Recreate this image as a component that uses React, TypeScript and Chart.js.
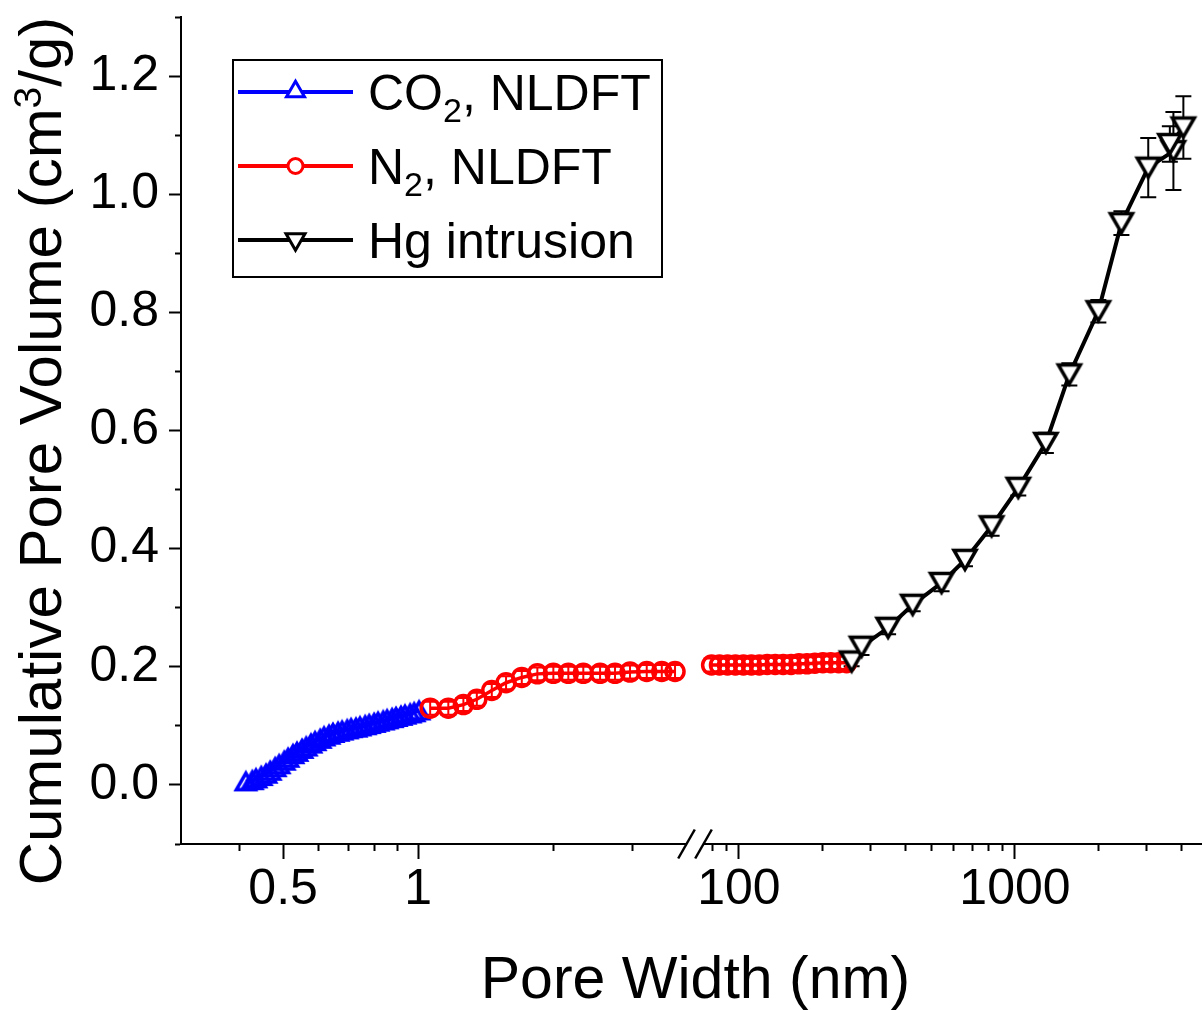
import React, { useEffect, useRef } from 'react';
import { Chart, registerables } from 'chart.js';

Chart.register(...registerables);

// ---------------- data ----------------
const CO2_X = [0.413, 0.427, 0.435, 0.447, 0.458, 0.468, 0.48, 0.49, 0.503, 0.513, 0.526, 0.537, 0.551, 0.563, 0.577, 0.589, 0.605, 0.617, 0.633, 0.646, 0.663, 0.677, 0.695, 0.709, 0.727, 0.742, 0.762, 0.778, 0.798, 0.814, 0.836, 0.853, 0.875, 0.893, 0.916, 0.935, 0.96, 0.98, 1.005];
const CO2_Y = [0.006, 0.008, 0.011, 0.015, 0.019, 0.024, 0.03, 0.035, 0.041, 0.046, 0.052, 0.056, 0.061, 0.065, 0.07, 0.074, 0.078, 0.082, 0.085, 0.088, 0.09, 0.092, 0.094, 0.096, 0.097, 0.099, 0.101, 0.103, 0.105, 0.107, 0.109, 0.111, 0.113, 0.115, 0.117, 0.119, 0.121, 0.123, 0.126];

const N2A_X = [1.064, 1.168, 1.262, 1.352, 1.46, 1.571, 1.703, 1.845, 2.003, 2.163, 2.336, 2.546, 2.749, 2.969, 3.235, 3.495, 3.741];
const N2A_Y = [0.13, 0.13, 0.136, 0.145, 0.16, 0.173, 0.182, 0.188, 0.189, 0.189, 0.189, 0.189, 0.189, 0.191, 0.192, 0.192, 0.192];
const N2A_ERR = [0.011, 0.011, 0.011, 0.011, 0.011, 0.011, 0.011, 0.011, 0.011, 0.011, 0.011, 0.011, 0.011, 0.011, 0.011, 0.011, 0.011];

const N2B_X = [79.6, 85.0, 90.9, 97.1, 103.8, 110.9, 118.5, 126.6, 135.3, 144.6, 154.5, 165.0, 176.4, 188.4, 201.4, 215.1, 229.8, 245.6];
const N2B_Y = [0.203, 0.203, 0.203, 0.203, 0.203, 0.203, 0.203, 0.204, 0.204, 0.204, 0.204, 0.205, 0.205, 0.206, 0.207, 0.207, 0.207, 0.207];
const N2B_ERR = [0.011, 0.011, 0.011, 0.011, 0.011, 0.011, 0.011, 0.011, 0.011, 0.011, 0.011, 0.011, 0.011, 0.011, 0.011, 0.011, 0.011, 0.011];

const HG_X = [256, 278, 347, 426, 542, 659, 823, 1028, 1294, 1574, 2005, 2430, 3040, 3750, 3640, 4075];
const HG_Y = [0.209, 0.234, 0.266, 0.305, 0.342, 0.381, 0.438, 0.503, 0.579, 0.695, 0.802, 0.951, 1.045, 1.073, 1.085, 1.113];
const HG_ERR = [0.008, 0.014, 0.011, 0.011, 0.014, 0.011, 0.016, 0.013, 0.017, 0.019, 0.019, 0.02, 0.05, 0.066, 0.03, 0.053];

// axes
const X1_RANGE = [0.296, 4.145];
const X2_RANGE = [69.3, 4760];
const Y_RANGE = [-0.1, 1.3];
const X1_TICKS = [0.4, 0.5, 0.6, 0.7, 0.8, 0.9, 1, 2, 3];
const X2_TICKS = [80, 90, 100, 200, 300, 400, 500, 600, 700, 800, 900, 1000, 2000, 3000, 4000];
const X_LABELED = [0.5, 1, 100, 1000];
const Y_TICKS = [-0.1, 0, 0.1, 0.2, 0.3, 0.4, 0.5, 0.6, 0.7, 0.8, 0.9, 1.0, 1.1, 1.2, 1.3];
const Y_LABELED = [0, 0.2, 0.4, 0.6, 0.8, 1.0, 1.2];

const X_TITLE = 'Pore Width (nm)';
const Y_TITLE_PARTS: [string, string][] = [['Cumulative Pore Volume (cm', 'n'], ['3', 'sup'], ['/g)', 'n']];
const LEGEND_LABELS: [string, string][][] = [
  [['CO', 'n'], ['2', 'sub'], [', NLDFT', 'n']],
  [['N', 'n'], ['2', 'sub'], [', NLDFT', 'n']],
  [['Hg intrusion', 'n']],
];

const FONT = "'Liberation Sans', Arial, Helvetica, sans-serif";
const BLUE = '#0000ff';
const RED = '#ff0000';
const BLACK = '#000000';

const near = (a: number, b: number) => Math.abs(a - b) < 1e-6 * Math.max(1, Math.abs(b));
const isXLabeled = (v: number) => X_LABELED.some((m) => near(v, m));
const isYLabeled = (v: number) => Y_LABELED.some((m) => near(v, m));

const pts = (xs: number[], ys: number[]) => xs.map((x, i) => ({ x, y: ys[i] }));

// triangle centred on its bounding box (side s), pointing up or down
function triPath(ctx: CanvasRenderingContext2D, cx: number, cy: number, s: number, down: boolean) {
  const h = (s * Math.sqrt(3)) / 2;
  ctx.beginPath();
  if (down) {
    ctx.moveTo(cx - s / 2, cy - h / 2);
    ctx.lineTo(cx + s / 2, cy - h / 2);
    ctx.lineTo(cx, cy + h / 2);
  } else {
    ctx.moveTo(cx - s / 2, cy + h / 2);
    ctx.lineTo(cx + s / 2, cy + h / 2);
    ctx.lineTo(cx, cy - h / 2);
  }
  ctx.closePath();
}

function makeTriangle(s: number, down: boolean, stroke: string, fill: string | null, lw: number) {
  const size = 36;
  const c = document.createElement('canvas');
  c.width = size;
  c.height = size;
  const ctx = c.getContext('2d')!;
  ctx.lineWidth = lw;
  ctx.lineJoin = 'miter';
  ctx.strokeStyle = stroke;
  triPath(ctx, size / 2, size / 2, s, down);
  if (fill) {
    ctx.fillStyle = fill;
    ctx.fill();
  }
  ctx.stroke();
  return c;
}

const errorBarPlugin = {
  id: 'errorBars',
  beforeDatasetsDraw(chart: any) {
    const ctx = chart.ctx as CanvasRenderingContext2D;
    const yScale = chart.scales.y;
    chart.data.datasets.forEach((ds: any, di: number) => {
      if (!ds.errors) return;
      const meta = chart.getDatasetMeta(di);
      ctx.save();
      ctx.strokeStyle = ds.borderColor;
      ctx.lineWidth = 2;
      meta.data.forEach((el: any, i: number) => {
        const v = ds.data[i].y;
        const e = ds.errors[i];
        const yt = yScale.getPixelForValue(v + e);
        const yb = yScale.getPixelForValue(v - e);
        const x = el.x;
        ctx.beginPath();
        ctx.moveTo(x, yt);
        ctx.lineTo(x, yb);
        ctx.moveTo(x - 8, yt);
        ctx.lineTo(x + 8, yt);
        ctx.moveTo(x - 8, yb);
        ctx.lineTo(x + 8, yb);
        ctx.stroke();
      });
      ctx.restore();
    });
  },
};

const decorPlugin = {
  id: 'decor',
  afterDraw(chart: any) {
    const ctx = chart.ctx as CanvasRenderingContext2D;
    const x1 = chart.scales.x1;
    const area = chart.chartArea;
    ctx.save();
    // axis break
    const xb = x1.right;
    const ya = x1.top;
    ctx.fillStyle = '#ffffff';
    ctx.fillRect(xb - 8, ya - 3, 16, 7);
    ctx.strokeStyle = BLACK;
    ctx.lineWidth = 2.5;
    [xb - 8.5, xb + 8.5].forEach((cx) => {
      ctx.beginPath();
      ctx.moveTo(cx - 8.3, ya + 14.5);
      ctx.lineTo(cx + 8.3, ya - 14.5);
      ctx.stroke();
    });

    // x title
    ctx.fillStyle = BLACK;
    ctx.font = `59px ${FONT}`;
    ctx.textAlign = 'center';
    ctx.textBaseline = 'alphabetic';
    ctx.fillText(X_TITLE, (area.left + area.right) / 2 + 4, 998);

    // y title (rotated)
    ctx.save();
    ctx.translate(61, 451);
    ctx.rotate(-Math.PI / 2);
    ctx.textAlign = 'left';
    const fontFor = (k: string) => (k === 'n' ? `60px ${FONT}` : `39px ${FONT}`);
    let total = 0;
    Y_TITLE_PARTS.forEach(([t, k]) => {
      ctx.font = fontFor(k);
      total += ctx.measureText(t).width;
    });
    let cx = -total / 2;
    Y_TITLE_PARTS.forEach(([t, k]) => {
      ctx.font = fontFor(k);
      ctx.fillText(t, cx, k === 'sup' ? -20 : 0);
      cx += ctx.measureText(t).width;
    });
    ctx.restore();

    // legend
    ctx.lineWidth = 2;
    ctx.strokeStyle = BLACK;
    ctx.strokeRect(233, 60, 429, 217);
    const styles = [
      { color: BLUE, kind: 'up' },
      { color: RED, kind: 'circle' },
      { color: BLACK, kind: 'down' },
    ];
    LEGEND_LABELS.forEach((parts, i) => {
      const y = 92 + i * 74;
      const st = styles[i];
      ctx.strokeStyle = st.color;
      ctx.lineWidth = 4;
      ctx.beginPath();
      ctx.moveTo(238, y);
      ctx.lineTo(353, y);
      ctx.stroke();
      ctx.lineWidth = 3;
      ctx.fillStyle = '#ffffff';
      if (st.kind === 'circle') {
        ctx.beginPath();
        ctx.arc(295.5, y, 7.5, 0, Math.PI * 2);
      } else {
        triPath(ctx, 295.5, st.kind === 'up' ? y - 3 : y + 2, st.kind === 'up' ? 18 : 19, st.kind === 'down');
      }
      ctx.fill();
      ctx.stroke();
      ctx.fillStyle = BLACK;
      ctx.textAlign = 'left';
      ctx.textBaseline = 'alphabetic';
      let tx = 368;
      const base = y + 18;
      parts.forEach(([t, k]) => {
        ctx.font = k === 'sub' ? `34px ${FONT}` : `50px ${FONT}`;
        ctx.fillText(t, tx, k === 'sub' ? base + 12 : base);
        tx += ctx.measureText(t).width;
      });
    });
    ctx.restore();
  },
};

function xScale(range: number[], ticks: number[], weight: number) {
  return {
    type: 'logarithmic',
    position: 'bottom',
    stack: 'xstack',
    stackWeight: weight,
    min: range[0],
    max: range[1],
    bounds: 'data',
    afterBuildTicks: (scale: any) => {
      scale.ticks = ticks.map((v) => ({ value: v }));
    },
    afterFit: (scale: any) => {
      scale.height = 166;
      scale.paddingLeft = 0;
      scale.paddingRight = 0;
      scale.paddingTop = 0;
      scale.paddingBottom = 0;
    },
    border: { display: true, color: BLACK, width: 2 },
    grid: {
      display: true,
      drawOnChartArea: false,
      drawTicks: true,
      tickLength: 15,
      tickWidth: 2,
      tickColor: BLACK,
      tickBorderDash: (c: any) => (c.tick && isXLabeled(c.tick.value) ? [] : [6, 100]),
      tickBorderDashOffset: 0,
    },
    ticks: {
      autoSkip: false,
      maxRotation: 0,
      minRotation: 0,
      padding: 1,
      color: BLACK,
      font: (c: any) => ({ family: FONT, size: c.tick && isXLabeled(c.tick.value) ? 50 : 1 }),
      callback: (v: any) => (isXLabeled(Number(v)) ? String(Number(v)) : ''),
    },
  };
}

export default function App() {
  const ref = useRef<HTMLCanvasElement>(null);

  useEffect(() => {
    const canvas = ref.current;
    if (!canvas) return;
    const w1 = 514;
    const w2 = 507;
    const upTri = makeTriangle(19, false, BLUE, null, 3.5);
    const downTri = makeTriangle(22, true, BLACK, '#ffffff', 3.5);
    const chart = new Chart(canvas, {
      type: 'line',
      data: {
        datasets: [
          {
            label: 'CO2, NLDFT',
            data: pts(CO2_X, CO2_Y),
            xAxisID: 'x1',
            yAxisID: 'y',
            borderColor: BLUE,
            borderWidth: 3.5,
            pointStyle: upTri,
            pointRadius: 12,
            pointBorderWidth: 3,
            pointBorderColor: BLUE,
            pointBackgroundColor: 'rgba(0,0,0,0)',
            tension: 0,
            order: 3,
          },
          {
            label: 'N2, NLDFT',
            data: pts(N2A_X, N2A_Y),
            errors: N2A_ERR,
            xAxisID: 'x1',
            yAxisID: 'y',
            borderColor: RED,
            borderWidth: 3.5,
            pointStyle: 'circle',
            pointRadius: 9,
            pointBorderWidth: 3.5,
            pointBorderColor: RED,
            pointBackgroundColor: 'rgba(0,0,0,0)',
            tension: 0,
            order: 2,
          },
          {
            label: 'N2, NLDFT (b)',
            data: pts(N2B_X, N2B_Y),
            errors: N2B_ERR,
            xAxisID: 'x2',
            yAxisID: 'y',
            borderColor: RED,
            borderWidth: 3.5,
            pointStyle: 'circle',
            pointRadius: 9,
            pointBorderWidth: 3.5,
            pointBorderColor: RED,
            pointBackgroundColor: 'rgba(0,0,0,0)',
            tension: 0,
            order: 2,
          },
          {
            label: 'Hg intrusion',
            data: pts(HG_X, HG_Y),
            errors: HG_ERR,
            xAxisID: 'x2',
            yAxisID: 'y',
            borderColor: BLACK,
            borderWidth: 4,
            pointStyle: downTri,
            pointRadius: 13,
            pointBorderWidth: 3,
            pointBorderColor: BLACK,
            pointBackgroundColor: '#ffffff',
            tension: 0,
            order: 1,
          },
        ] as any,
      },
      options: {
        animation: false,
        responsive: false,
        devicePixelRatio: 1,
        layout: { autoPadding: false, padding: { top: 17, left: 0, right: 0, bottom: 0 } },
        plugins: { legend: { display: false }, tooltip: { enabled: false }, title: { display: false } },
        scales: {
          x1: xScale(X1_RANGE, X1_TICKS, w1) as any,
          x2: xScale(X2_RANGE, X2_TICKS, w2) as any,
          y: {
            type: 'linear',
            position: 'left',
            min: Y_RANGE[0],
            max: Y_RANGE[1],
            afterBuildTicks: (scale: any) => {
              scale.ticks = Y_TICKS.map((v) => ({ value: v }));
            },
            afterFit: (scale: any) => {
              scale.width = 181;
              scale.paddingTop = 0;
              scale.paddingBottom = 0;
              scale.paddingLeft = 0;
              scale.paddingRight = 0;
            },
            border: { display: true, color: BLACK, width: 2 },
            grid: {
              display: true,
              drawOnChartArea: false,
              drawTicks: true,
              tickLength: 12,
              tickWidth: 2,
              tickColor: BLACK,
              tickBorderDash: (c: any) => (c.tick && isYLabeled(c.tick.value) ? [] : [6, 6]),
              tickBorderDashOffset: (c: any) => (c.tick && isYLabeled(c.tick.value) ? 0 : 6),
            },
            ticks: {
              autoSkip: false,
              padding: 10,
              color: BLACK,
              font: (c: any) => ({ family: FONT, size: c.tick && isYLabeled(c.tick.value) ? 50 : 1 }),
              callback: (v: any) => (isYLabeled(Number(v)) ? Number(v).toFixed(1) : ''),
            },
          } as any,
        },
      },
      plugins: [errorBarPlugin, decorPlugin],
    } as any);
    return () => chart.destroy();
  }, []);

  return (
    <div style={{ position: 'absolute', left: 0, top: 0, width: 1202, height: 1010, background: '#ffffff' }}>
      <canvas ref={ref} width={1202} height={1010} style={{ display: 'block', width: 1202, height: 1010 }} />
    </div>
  );
}
